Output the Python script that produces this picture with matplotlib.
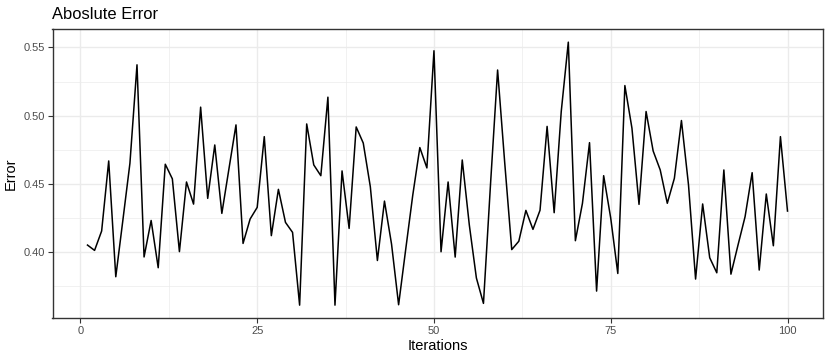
import matplotlib
matplotlib.use("Agg")
import matplotlib.pyplot as plt
from matplotlib.ticker import FixedLocator

iterations = list(range(1, 101))
error = [
    0.4053, 0.4014, 0.4156, 0.4669, 0.3821, 0.4234, 0.4652, 0.5373, 0.3966, 0.4233,
    0.3887, 0.4645, 0.4538, 0.4005, 0.4515, 0.4353, 0.5063, 0.4395, 0.4786, 0.4285,
    0.4610, 0.4933, 0.4065, 0.4244, 0.4329, 0.4847, 0.4122, 0.4461, 0.4219, 0.4146,
    0.3613, 0.4940, 0.4640, 0.4561, 0.5136, 0.3613, 0.4596, 0.4175, 0.4918, 0.4800,
    0.4480, 0.3940, 0.4375, 0.4060, 0.3616, 0.4020, 0.4418, 0.4767, 0.4618, 0.5476,
    0.4004, 0.4515, 0.3965, 0.4676, 0.4200, 0.3812, 0.3626, 0.4500, 0.5335, 0.4660,
    0.4020, 0.4081, 0.4307, 0.4168, 0.4308, 0.4922, 0.4290, 0.5031, 0.5539, 0.4085,
    0.4359, 0.4803, 0.3716, 0.4561, 0.4250, 0.3845, 0.5221, 0.4909, 0.4351, 0.5031,
    0.4742, 0.4603, 0.4359, 0.4542, 0.4965, 0.4493, 0.3804, 0.4354, 0.3960, 0.3850,
    0.4603, 0.3840, 0.4053, 0.4261, 0.4583, 0.3870, 0.4427, 0.4048, 0.4847, 0.4302,
]
x_ticks = [0, 25, 50, 75, 100]
y_ticks = [0.40, 0.45, 0.50, 0.55]
y_tick_labels = ["0.40", "0.45", "0.50", "0.55"]

plt.rcParams['font.family'] = ['Liberation Sans', 'DejaVu Sans']

fig = plt.figure(figsize=(8.30, 3.58), dpi=100)
ax = fig.add_axes([52.5/830, 1 - 318.3/358, (822.5-52.5)/830, (318.3-29.0)/358])

ax.plot(iterations, error, color='black', lw=1.1, zorder=3)

xmin, xmax = min(iterations), max(iterations)
xr = xmax - xmin
ax.set_xlim(xmin - 0.05*xr, xmax + 0.05*xr)
ymin, ymax = min(error), max(error)
yr = ymax - ymin
ax.set_ylim(ymin - 0.05*yr, ymax + 0.05*yr)

ax.xaxis.set_major_locator(FixedLocator(x_ticks))
ax.xaxis.set_minor_locator(FixedLocator([12.5, 37.5, 62.5, 87.5]))
ax.set_yticks(y_ticks)
ax.set_yticklabels(y_tick_labels)
ax.yaxis.set_minor_locator(FixedLocator([0.375, 0.425, 0.475, 0.525]))

ax.grid(which='major', color='#EBEBEB', lw=1.0, zorder=0)
ax.grid(which='minor', color='#EBEBEB', lw=0.5, zorder=0)
ax.set_axisbelow(True)

for s in ax.spines.values():
    s.set_color('#333333')
    s.set_linewidth(1.0)

ax.tick_params(which='major', length=3.5, width=0.8, color='#333333',
               labelcolor='#4D4D4D', labelsize=8, pad=2)
ax.tick_params(which='minor', length=0)

ax.set_xlabel('Iterations', fontsize=10.5, color='black', labelpad=2)
ax.set_ylabel('Error', fontsize=10.5, color='black', labelpad=4)
ax.set_title('Aboslute Error', fontsize=11.9, loc='left', pad=7, color='black')

fig.savefig('out.png', dpi=100)
